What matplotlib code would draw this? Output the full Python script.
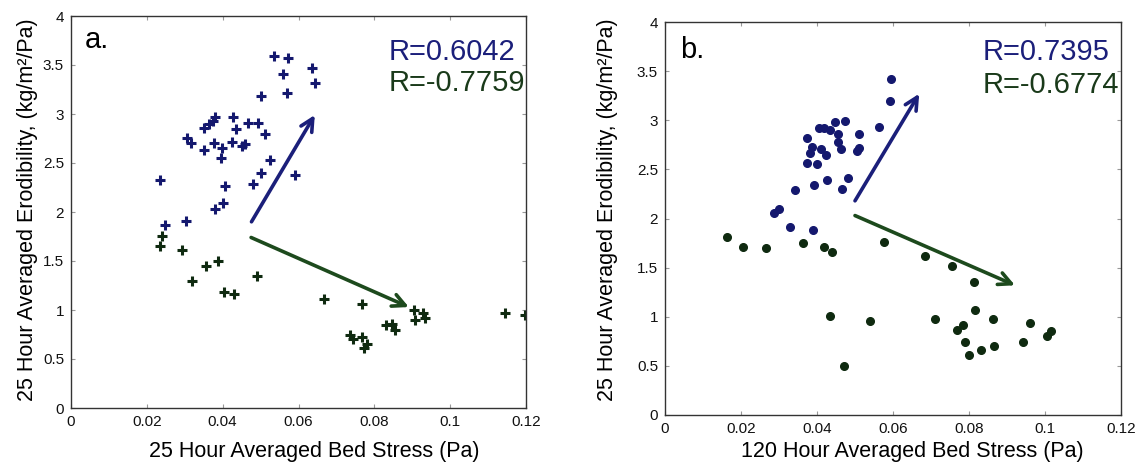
import matplotlib.pyplot as plt

plt.rcParams['font.family'] = ['Liberation Sans', 'DejaVu Sans']

# panel a: 25 hour averaged bed stress
a_blue_x = [0.0536, 0.0571, 0.0635, 0.0558, 0.0643, 0.0502, 0.0570, 0.0379, 0.0428, 0.0374,
            0.0364, 0.0352, 0.0435, 0.0466, 0.0493, 0.0512, 0.0305, 0.0316, 0.0352, 0.0378,
            0.0399, 0.0395, 0.0425, 0.0450, 0.0459, 0.0524, 0.0501, 0.0590, 0.0481, 0.0405,
            0.0235, 0.0380, 0.0402, 0.0302, 0.0249]
a_blue_y = [3.59, 3.575, 3.47, 3.41, 3.32, 3.185, 3.21, 2.97, 2.97, 2.93,
            2.90, 2.86, 2.85, 2.91, 2.91, 2.80, 2.76, 2.70, 2.63, 2.70,
            2.65, 2.55, 2.71, 2.67, 2.69, 2.53, 2.40, 2.38, 2.29, 2.27,
            2.33, 2.03, 2.09, 1.91, 1.87]
a_green_x = [0.0239, 0.0235, 0.0294, 0.0355, 0.0388, 0.0318, 0.0490, 0.0403, 0.0431, 0.0668,
             0.0767, 0.0905, 0.0906, 0.0929, 0.0933, 0.1144, 0.1197, 0.0831, 0.0846, 0.0855,
             0.0736, 0.0743, 0.0767, 0.0774, 0.0780]
a_green_y = [1.756, 1.654, 1.61, 1.447, 1.50, 1.295, 1.35, 1.186, 1.16, 1.115,
             1.064, 1.0, 0.898, 0.966, 0.922, 0.969, 0.953, 0.844, 0.858, 0.797,
             0.742, 0.705, 0.729, 0.61, 0.654]
a_blue_arrow = [(0.0476, 1.90), (0.0643, 2.99)]
a_green_arrow = [(0.0475, 1.74), (0.0891, 1.03)]
a_r = ['R=0.6042', 'R=-0.7759']

# panel b: 120 hour averaged bed stress
b_blue_x = [0.0595, 0.0593, 0.0564, 0.0474, 0.0447, 0.0404, 0.0418, 0.0434, 0.0373, 0.0456,
            0.0511, 0.0455, 0.0388, 0.0411, 0.0464, 0.0382, 0.0424, 0.0510, 0.0506, 0.0373,
            0.0399, 0.0393, 0.0427, 0.0482, 0.0465, 0.0341, 0.0300, 0.0288, 0.0330, 0.0390]
b_blue_y = [3.415, 3.197, 2.932, 2.99, 2.983, 2.925, 2.925, 2.905, 2.82, 2.857,
            2.864, 2.776, 2.724, 2.704, 2.707, 2.663, 2.643, 2.714, 2.687, 2.561,
            2.551, 2.344, 2.391, 2.415, 2.299, 2.286, 2.092, 2.054, 1.918, 1.884]
b_green_x = [0.0162, 0.0204, 0.0267, 0.0363, 0.0418, 0.0439, 0.0575, 0.0685, 0.0756, 0.0814,
             0.0817, 0.0435, 0.0539, 0.0711, 0.0862, 0.0784, 0.0768, 0.0789, 0.0801, 0.0831,
             0.0867, 0.0942, 0.0961, 0.1006, 0.1015, 0.0472]
b_green_y = [1.807, 1.715, 1.702, 1.749, 1.712, 1.661, 1.763, 1.617, 1.512, 1.356,
             1.071, 1.003, 0.959, 0.980, 0.976, 0.912, 0.864, 0.742, 0.614, 0.661,
             0.705, 0.739, 0.932, 0.800, 0.854, 0.495]
b_blue_arrow = [(0.0500, 2.18), (0.0669, 3.27)]
b_green_arrow = [(0.0500, 2.03), (0.0921, 1.32)]
b_r = ['R=0.7395', 'R=-0.6774']

x_ticks = [0, 0.02, 0.04, 0.06, 0.08, 0.1, 0.12]
x_labels = ['0', '0.02', '0.04', '0.06', '0.08', '0.1', '0.12']
y_ticks = [0, 0.5, 1, 1.5, 2, 2.5, 3, 3.5, 4]
y_labels = ['0', '0.5', '1', '1.5', '2', '2.5', '3', '3.5', '4']

blue = '#1b1f7a'
green = '#1d4a1d'
pt_blue = '#14186e'
pt_green = '#0f2a10'
txt_green = '#1a3a1a'

W, H = 1140, 468
fig = plt.figure(figsize=(W / 100, H / 100), dpi=100)
ax_a = fig.add_axes([71 / W, 1 - 408 / H, 455 / W, 392 / H])
ax_b = fig.add_axes([665 / W, 1 - 415 / H, 456 / W, 393 / H])


def style_axes(ax):
    ax.set_xlim(0, 0.12)
    ax.set_ylim(0, 4)
    ax.set_xticks(x_ticks)
    ax.set_xticklabels(x_labels)
    ax.set_yticks(y_ticks)
    ax.set_yticklabels(y_labels)
    ax.tick_params(direction='in', length=3, width=0.8, color='#999999',
                   top=True, right=True, labelsize=11, pad=5, labelcolor='#111111')
    for s in ax.spines.values():
        s.set_color('#333333')
        s.set_linewidth(1.0)


def arrow(ax, pts, color):
    ax.annotate('', xy=pts[1], xytext=pts[0],
                arrowprops=dict(arrowstyle='->,head_length=0.9,head_width=0.45',
                                color=color, lw=2.6, shrinkA=0, shrinkB=0))


# panel a
ax_a.plot(a_blue_x, a_blue_y, '+', color=pt_blue, ms=7.5, mew=2.2)
ax_a.plot(a_green_x, a_green_y, '+', color=pt_green, ms=7.5, mew=2.2)
arrow(ax_a, a_blue_arrow, blue)
arrow(ax_a, a_green_arrow, green)
style_axes(ax_a)
ax_a.text(0.03, 0.975, 'a.', transform=ax_a.transAxes, fontsize=21, va='top', ha='left')
ax_a.text(0.697, 0.908, a_r[0], transform=ax_a.transAxes, fontsize=21, va='center', color=blue)
ax_a.text(0.697, 0.829, a_r[1], transform=ax_a.transAxes, fontsize=21, va='center', color=txt_green)

# panel b
ax_b.plot(b_blue_x, b_blue_y, 'o', color=pt_blue, ms=5.5)
ax_b.plot(b_green_x, b_green_y, 'o', color=pt_green, ms=5.5)
arrow(ax_b, b_blue_arrow, blue)
arrow(ax_b, b_green_arrow, green)
style_axes(ax_b)
ax_b.text(0.033, 0.965, 'b.', transform=ax_b.transAxes, fontsize=21, va='top', ha='left')
ax_b.text(0.697, 0.924, b_r[0], transform=ax_b.transAxes, fontsize=21, va='center', color=blue)
ax_b.text(0.697, 0.84, b_r[1], transform=ax_b.transAxes, fontsize=21, va='center', color=txt_green)

# axis titles
fig.text(314 / W, 1 - 451 / H, '25 Hour Averaged Bed Stress (Pa)', fontsize=15.5,
         ha='center', va='center')
fig.text(912 / W, 1 - 452 / H, '120 Hour Averaged Bed Stress (Pa)', fontsize=15.5,
         ha='center', va='center')
ylab = '25 Hour Averaged Erodibility, (kg/m²/Pa)'
fig.text(28 / W, 1 - 210 / H, ylab, fontsize=15.5, rotation=90, ha='center', va='center')
fig.text(607 / W, 1 - 210 / H, ylab, fontsize=15.5, rotation=90, ha='center', va='center')

fig.savefig('out.png', dpi=100)
